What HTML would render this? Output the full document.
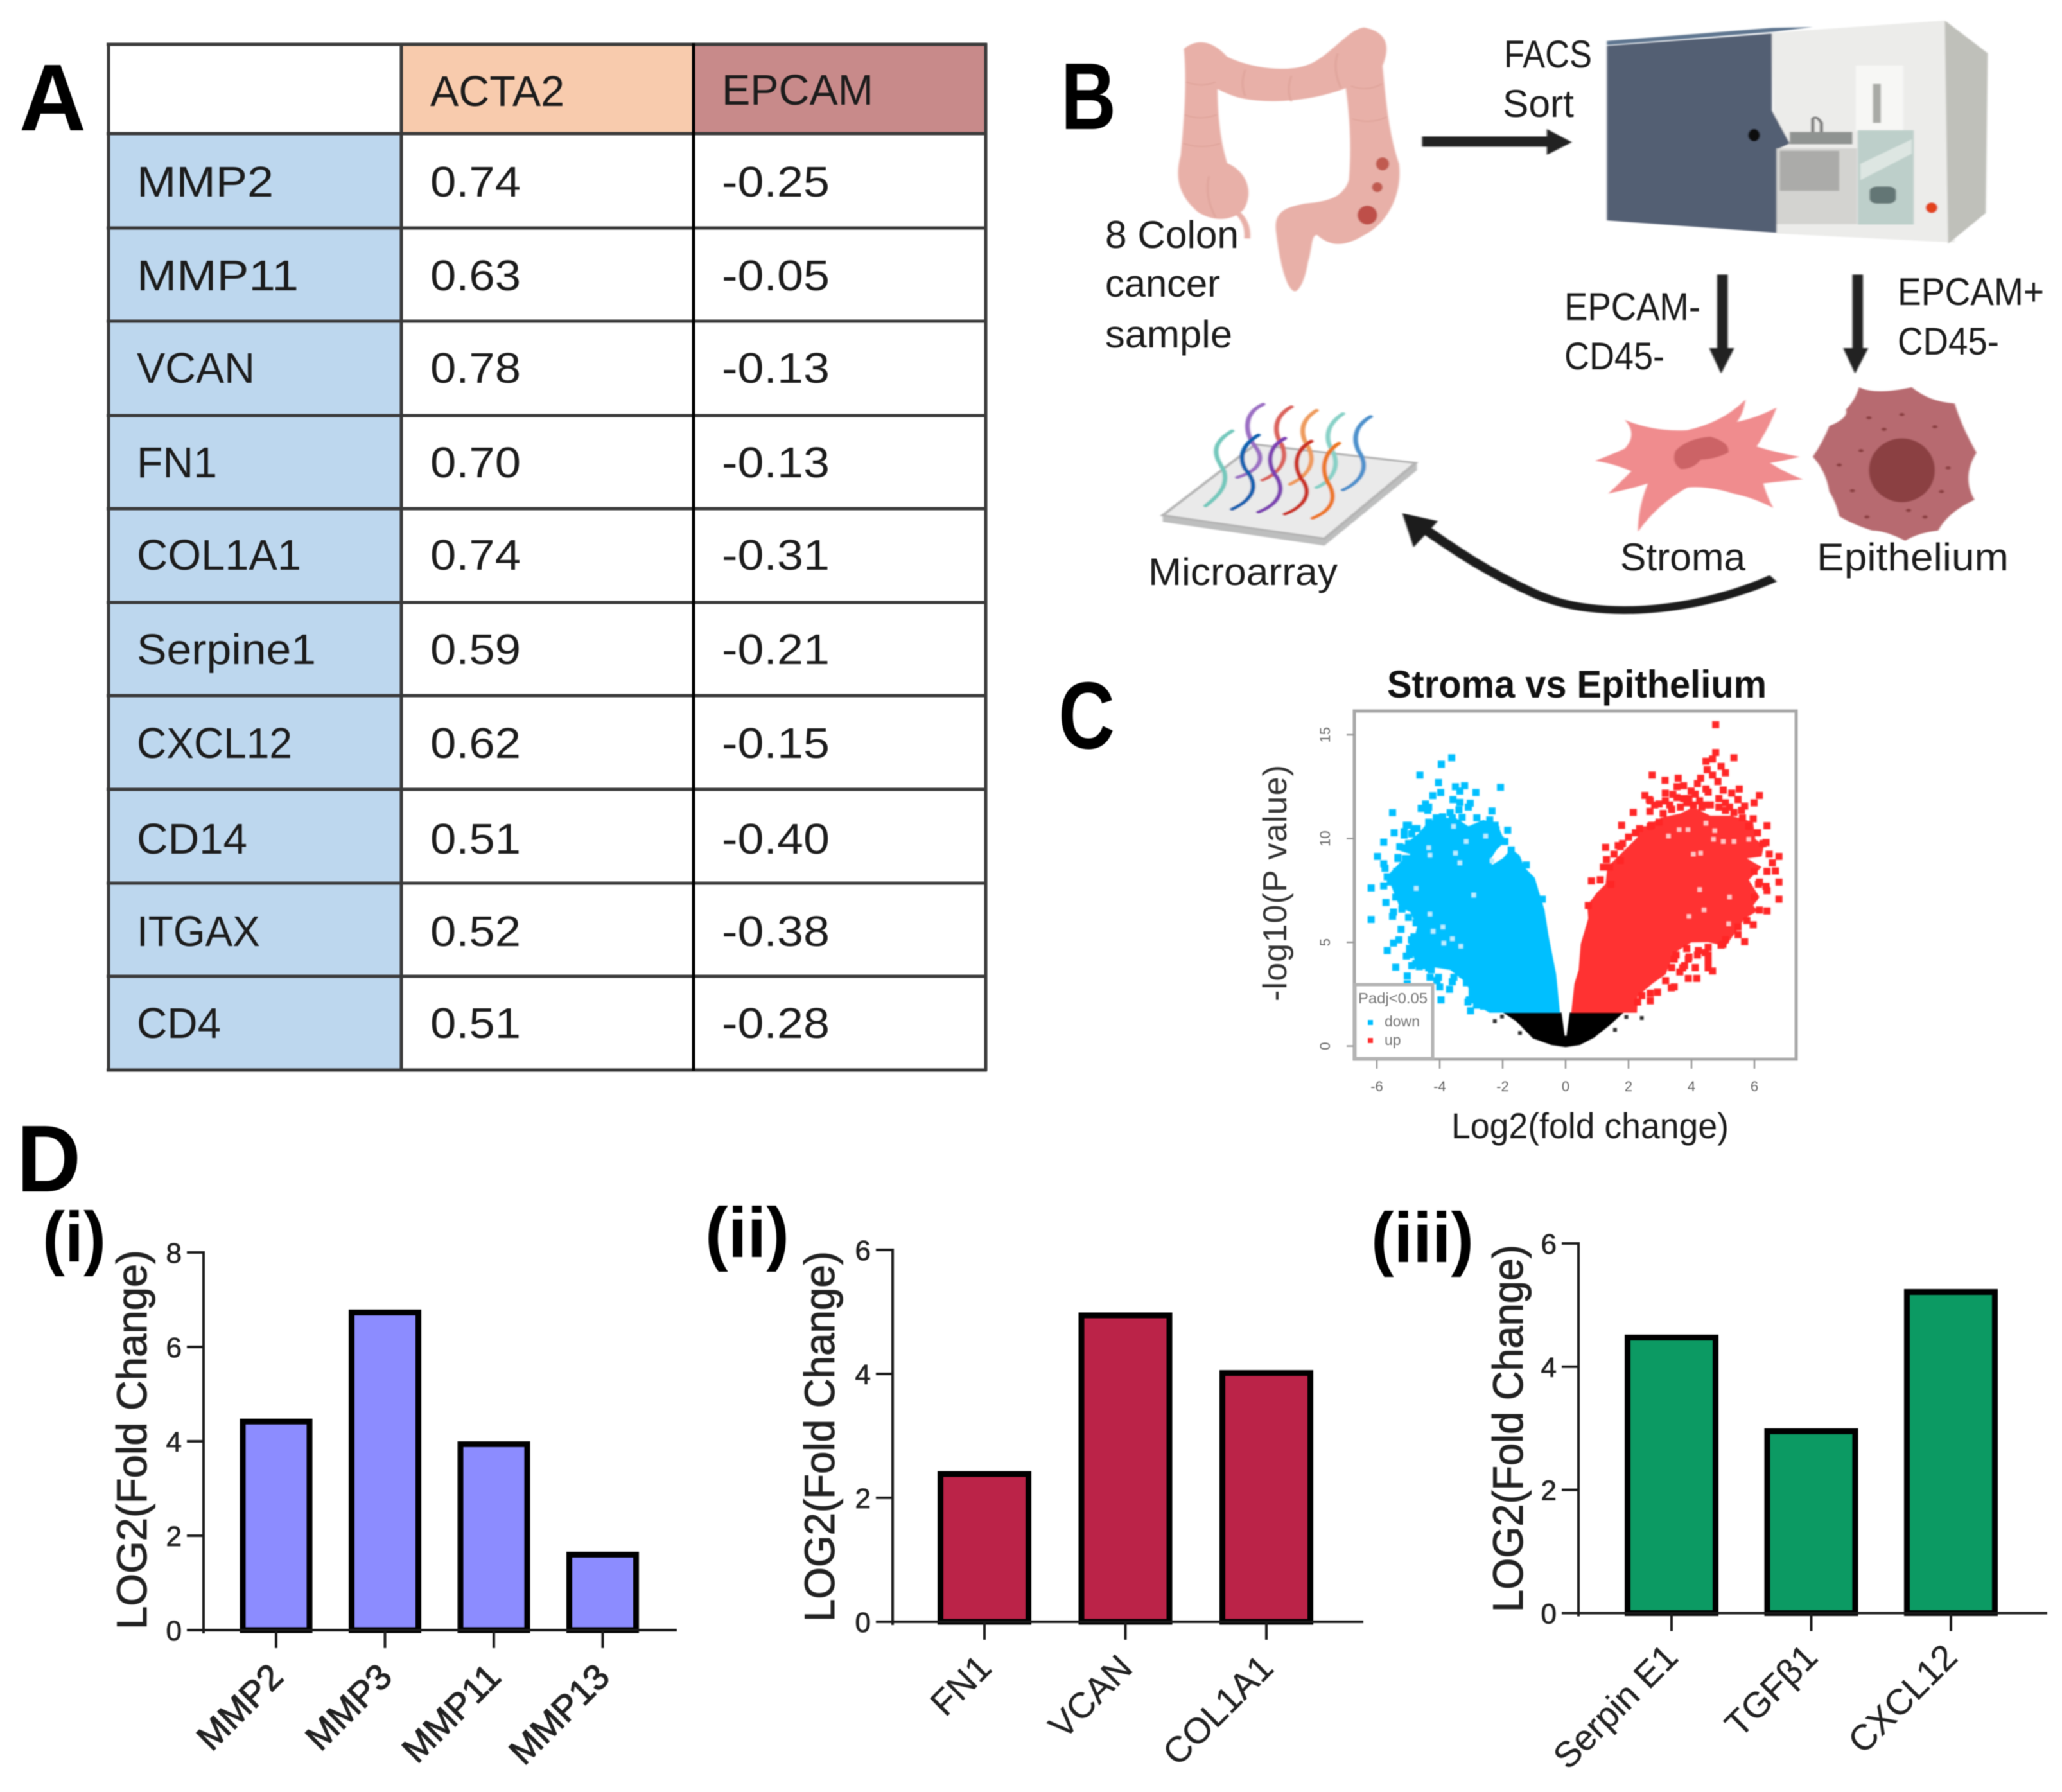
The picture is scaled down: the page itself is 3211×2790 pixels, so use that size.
<!DOCTYPE html>
<html lang="en">
<head>
<meta charset="utf-8">
<title>Stroma vs Epithelium composite figure</title>
<style>
html,body{margin:0;padding:0;background:#fff;}
svg{display:block;filter:blur(0.7px);}
text{font-family:"Liberation Sans",sans-serif;}
.cell{font-size:67px;fill:#1c1c1c;}
.lab{font-size:60px;fill:#1c1c1c;}
.panel{font-size:148px;font-weight:bold;fill:#000;}
.sub{font-size:110px;font-weight:bold;fill:#000;}
</style>
</head>
<body>
<svg id="fig" xmlns="http://www.w3.org/2000/svg" width="3211" height="2790" viewBox="0 0 3211 2790">
<defs>
<filter id="soft" x="-5%" y="-5%" width="110%" height="110%"><feGaussianBlur stdDeviation="1.3"/></filter>
<filter id="soft2" x="-5%" y="-5%" width="110%" height="110%"><feGaussianBlur stdDeviation="0.8"/></filter>
</defs>
<rect width="3211" height="2790" fill="#fff"/>

<!-- Panel letters -->
<text class="panel" x="30" y="203" textLength="104" lengthAdjust="spacingAndGlyphs">A</text>
<text class="panel" x="1652" y="201" textLength="86" lengthAdjust="spacingAndGlyphs">B</text>
<text class="panel" x="1648" y="1165" textLength="88" lengthAdjust="spacingAndGlyphs">C</text>
<text class="panel" x="26" y="1855" textLength="100" lengthAdjust="spacingAndGlyphs">D</text>
<text class="sub" x="66" y="1964" textLength="99" lengthAdjust="spacingAndGlyphs">(i)</text>
<text class="sub" x="1098" y="1957" textLength="131" lengthAdjust="spacingAndGlyphs">(ii)</text>
<text class="sub" x="2135" y="1965" textLength="160" lengthAdjust="spacingAndGlyphs">(iii)</text>

<!-- Panel A table -->
<g>
<rect x="168" y="69" width="457" height="138" fill="#fff"/>
<rect x="625" y="69" width="454" height="138" fill="#F8CBAD"/>
<rect x="1079" y="69" width="456" height="138" fill="#C88A8A"/>
<rect x="168" y="207" width="457" height="1458" fill="#BDD7EE"/>
<g stroke="#3a3a3a" stroke-width="5">
<line x1="166" x2="1537" y1="69" y2="69"/><line x1="166" x2="1537" y1="208" y2="208"/><line x1="166" x2="1537" y1="355" y2="355"/><line x1="166" x2="1537" y1="500" y2="500"/><line x1="166" x2="1537" y1="647" y2="647"/><line x1="166" x2="1537" y1="792" y2="792"/><line x1="166" x2="1537" y1="938" y2="938"/><line x1="166" x2="1537" y1="1083" y2="1083"/><line x1="166" x2="1537" y1="1229" y2="1229"/><line x1="166" x2="1537" y1="1375" y2="1375"/><line x1="166" x2="1537" y1="1520" y2="1520"/><line x1="166" x2="1537" y1="1666" y2="1666"/>
<line x1="169" x2="169" y1="67" y2="1667"/><line x1="625" x2="625" y1="67" y2="1667"/><line x1="1080" x2="1080" y1="67" y2="1667" stroke="#000"/><line x1="1535" x2="1535" y1="67" y2="1667"/>
</g>
<text class="cell" x="670" y="165" textLength="209" lengthAdjust="spacingAndGlyphs">ACTA2</text>
<text class="cell" x="1124" y="163" textLength="236" lengthAdjust="spacingAndGlyphs">EPCAM</text>
<g transform="translate(0,-2)">
<text class="cell" x="213" y="308" textLength="213" lengthAdjust="spacingAndGlyphs">MMP2</text>
<text class="cell" x="213" y="454" textLength="252" lengthAdjust="spacingAndGlyphs">MMP11</text>
<text class="cell" x="213" y="598" textLength="184" lengthAdjust="spacingAndGlyphs">VCAN</text>
<text class="cell" x="213" y="745" textLength="125" lengthAdjust="spacingAndGlyphs">FN1</text>
<text class="cell" x="213" y="889" textLength="256" lengthAdjust="spacingAndGlyphs">COL1A1</text>
<text class="cell" x="213" y="1036" textLength="279" lengthAdjust="spacingAndGlyphs">Serpine1</text>
<text class="cell" x="213" y="1182" textLength="242" lengthAdjust="spacingAndGlyphs">CXCL12</text>
<text class="cell" x="213" y="1331" textLength="172" lengthAdjust="spacingAndGlyphs">CD14</text>
<text class="cell" x="213" y="1475" textLength="192" lengthAdjust="spacingAndGlyphs">ITGAX</text>
<text class="cell" x="213" y="1618" textLength="131" lengthAdjust="spacingAndGlyphs">CD4</text>
</g>
<g transform="translate(0,-2)">
<text class="cell" x="670" y="308" textLength="141" lengthAdjust="spacingAndGlyphs">0.74</text>
<text class="cell" x="670" y="454" textLength="141" lengthAdjust="spacingAndGlyphs">0.63</text>
<text class="cell" x="670" y="598" textLength="141" lengthAdjust="spacingAndGlyphs">0.78</text>
<text class="cell" x="670" y="745" textLength="141" lengthAdjust="spacingAndGlyphs">0.70</text>
<text class="cell" x="670" y="889" textLength="141" lengthAdjust="spacingAndGlyphs">0.74</text>
<text class="cell" x="670" y="1036" textLength="141" lengthAdjust="spacingAndGlyphs">0.59</text>
<text class="cell" x="670" y="1182" textLength="141" lengthAdjust="spacingAndGlyphs">0.62</text>
<text class="cell" x="670" y="1331" textLength="141" lengthAdjust="spacingAndGlyphs">0.51</text>
<text class="cell" x="670" y="1475" textLength="141" lengthAdjust="spacingAndGlyphs">0.52</text>
<text class="cell" x="670" y="1618" textLength="141" lengthAdjust="spacingAndGlyphs">0.51</text>
</g>
<g transform="translate(0,-2)">
<text class="cell" x="1124" y="308" textLength="168" lengthAdjust="spacingAndGlyphs">-0.25</text>
<text class="cell" x="1124" y="454" textLength="168" lengthAdjust="spacingAndGlyphs">-0.05</text>
<text class="cell" x="1124" y="598" textLength="168" lengthAdjust="spacingAndGlyphs">-0.13</text>
<text class="cell" x="1124" y="745" textLength="168" lengthAdjust="spacingAndGlyphs">-0.13</text>
<text class="cell" x="1124" y="889" textLength="168" lengthAdjust="spacingAndGlyphs">-0.31</text>
<text class="cell" x="1124" y="1036" textLength="168" lengthAdjust="spacingAndGlyphs">-0.21</text>
<text class="cell" x="1124" y="1182" textLength="168" lengthAdjust="spacingAndGlyphs">-0.15</text>
<text class="cell" x="1124" y="1331" textLength="168" lengthAdjust="spacingAndGlyphs">-0.40</text>
<text class="cell" x="1124" y="1475" textLength="168" lengthAdjust="spacingAndGlyphs">-0.38</text>
<text class="cell" x="1124" y="1618" textLength="168" lengthAdjust="spacingAndGlyphs">-0.28</text>
</g>
</g>

<!-- Panel B illustrations (drawn in crop coordinates) -->
<g transform="translate(1600,0) scale(1.0277,0.6378)" filter="url(#soft)">
  <g>
    <path fill="#E8B0A8" stroke="#E8B0A8" stroke-width="6" stroke-linejoin="round" d="M240,120 C260,95 280,105 300,140 C330,165 400,190 440,150 C470,120 490,75 510,70 C540,80 548,110 535,160 C540,250 545,330 560,400 C565,470 545,540 510,570 C480,600 460,600 440,570 C425,570 430,600 422,640 C418,680 410,705 405,708 C395,700 385,640 380,570 C375,520 390,510 420,500 C450,495 480,490 490,440 C495,350 490,270 485,210 C440,240 370,255 320,235 C300,225 290,215 285,210 C285,290 290,350 300,400 C330,420 340,470 325,510 C310,535 285,540 260,515 C235,480 225,440 235,380 C240,300 245,200 240,120 Z"/>
    <g fill="none" stroke="#DCA096" stroke-width="3" opacity="0.7">
      <path d="M240,200 Q265,215 285,200"/><path d="M238,280 Q262,295 287,280"/><path d="M236,350 Q265,365 292,350"/>
      <path d="M330,170 Q322,205 330,235"/><path d="M400,185 Q392,220 400,248"/><path d="M470,130 Q462,170 475,215"/>
      <path d="M490,210 Q515,225 537,205"/><path d="M492,290 Q520,305 545,285"/><path d="M275,430 Q268,480 285,530"/>
    </g>
    <path d="M315,515 Q335,540 333,582" fill="none" stroke="#E8B0A8" stroke-width="9"/>
    <ellipse cx="538" cy="400" rx="10" ry="16" fill="#C05A50"/>
    <ellipse cx="530" cy="457" rx="8" ry="12" fill="#C05A50"/>
    <ellipse cx="515" cy="525" rx="15" ry="23" fill="#BE5048"/>
  </g>
  <g fill="#222">
    <rect x="598" y="333" width="195" height="25"/>
    <polygon points="787,315 825,347 787,378"/>
  </g>
  <g>
    <polygon points="1128,80 1390,50 1405,120 1405,592 1135,570" fill="#ECECEA"/>
    <polygon points="1390,50 1455,130 1452,520 1395,595" fill="#BFC0BA"/>
    <polygon points="878,110 1128,78 1190,66 1128,68 878,100" fill="#5F7690"/>
    <polygon points="878,112 1128,82 1128,270 1155,350 1135,365 1135,568 878,538" fill="#525E73"/>
    <rect x="1255" y="160" width="72" height="160" fill="#F7F7F5"/>
    <rect x="1135" y="362" width="122" height="185" fill="#D3D3D0"/>
    <rect x="1140" y="368" width="90" height="98" fill="#ABABA9"/>
    <rect x="1258" y="318" width="85" height="230" fill="#BDCFCA"/>
    <polygon points="1262,400 1340,340 1340,375 1262,440" fill="#DDE6E2"/>
    <rect x="1281" y="205" width="12" height="95" fill="#A9AAA6"/>
    <path d="M1190,325 V290 Q1195,280 1203,300 V325" fill="none" stroke="#777" stroke-width="5"/>
    <rect x="1155" y="322" width="95" height="30" fill="#8F9391"/>
    <rect x="1276" y="455" width="40" height="42" fill="#647675" rx="12"/>
    <ellipse cx="1101" cy="330" rx="9" ry="15" fill="#111"/>
    <ellipse cx="1370" cy="507" rx="9" ry="13" fill="#E2421C"/>
  </g>
  <g fill="#222">
    <rect x="1045" y="670" width="16" height="195"/>
    <polygon points="1033,850 1071,850 1051,912"/>
    <rect x="1250" y="670" width="16" height="195"/>
    <polygon points="1236,850 1274,850 1254,912"/>
  </g>
  <g>
    <path fill="#F08C8E" d="M905,1025 Q950,1055 1000,1050 Q1055,1030 1088,975 Q1085,1010 1075,1030 Q1105,1020 1135,995 Q1125,1040 1105,1090 Q1135,1105 1170,1115 Q1145,1125 1125,1130 Q1150,1155 1175,1170 Q1140,1175 1115,1180 Q1120,1210 1130,1240 Q1100,1215 1070,1205 Q1030,1185 1000,1190 Q955,1230 925,1298 Q925,1240 940,1180 Q910,1195 880,1205 Q900,1175 915,1150 Q885,1130 860,1125 Q885,1110 905,1095 Q925,1060 905,1025 Z"/>
    <path fill="#CC6466" d="M982,1100 Q1000,1070 1035,1066 Q1065,1080 1062,1105 Q1040,1122 1020,1122 Q1010,1145 990,1145 Q975,1130 982,1100 Z"/>
  </g>
  <g>
    <path fill="#B76A6F" d="M1260,945 Q1285,965 1340,945 Q1365,980 1405,985 Q1415,1040 1438,1105 Q1415,1165 1435,1220 Q1395,1250 1380,1295 Q1350,1300 1330,1320 Q1300,1295 1280,1295 Q1250,1280 1230,1260 Q1225,1225 1215,1200 Q1210,1150 1190,1115 Q1205,1080 1215,1040 Q1245,1020 1240,1000 Q1255,975 1260,945 Z"/>
    <ellipse cx="1325" cy="1148" rx="50" ry="78" fill="#8B3F43"/>
    <g fill="#8B3F43"><circle cx="1275" cy="1020" r="4"/><circle cx="1325" cy="1012" r="4"/><circle cx="1298" cy="1048" r="4"/><circle cx="1375" cy="1042" r="4"/><circle cx="1230" cy="1135" r="4"/><circle cx="1263" cy="1100" r="4"/><circle cx="1395" cy="1142" r="4"/><circle cx="1385" cy="1200" r="4"/><circle cx="1250" cy="1198" r="4"/><circle cx="1272" cy="1262" r="4"/><circle cx="1335" cy="1246" r="4"/><circle cx="1360" cy="1262" r="4"/></g>
  </g>
  <g>
    <polygon fill="#BDBEBE" points="205,1258 450,1315 590,1130 590,1148 450,1332 205,1274"/>
    <polygon fill="#EAEAEA" stroke="#B4B4B4" stroke-width="5" points="205,1258 345,1085 588,1130 450,1315"/>
    <g fill="none" stroke-width="7" stroke-linecap="round">
      <path stroke="#72C7BB" d="M310,1052 C270,1090 290,1125 298,1150 C305,1190 285,1215 270,1235"/>
      <path stroke="#9A6DC2" d="M357,987 C325,1010 330,1060 345,1090 C365,1130 340,1155 318,1165"/>
      <path stroke="#D9605A" d="M400,993 C370,1020 375,1060 385,1085 C398,1130 375,1160 356,1172"/>
      <path stroke="#EE9A5C" d="M438,1002 C410,1030 415,1065 425,1090 C440,1135 420,1165 398,1182"/>
      <path stroke="#86D0C6" d="M478,1010 C450,1040 452,1075 462,1100 C475,1140 460,1175 438,1190"/>
      <path stroke="#4C8FCB" d="M520,1017 C490,1045 495,1085 505,1110 C518,1150 500,1180 478,1196"/>
      <path stroke="#0D5FAE" d="M350,1062 C320,1090 320,1130 335,1155 C352,1195 335,1225 310,1243"/>
      <path stroke="#7A3CB0" d="M390,1070 C360,1095 365,1140 378,1165 C392,1205 375,1235 350,1250"/>
      <path stroke="#C92D24" d="M430,1077 C400,1105 405,1150 418,1175 C432,1210 415,1240 390,1255"/>
      <path stroke="#EC7622" d="M472,1082 C445,1110 445,1155 458,1185 C470,1225 455,1250 432,1265"/>
    </g>
  </g>
  <g>
    <path d="M1130,1412 C1020,1490 870,1520 770,1450 C700,1400 650,1345 605,1295" fill="none" stroke="#1e1e1e" stroke-width="19"/>
    <polygon fill="#1e1e1e" points="568,1253 622,1272 585,1336"/>
  </g>
</g>
<g>
<text class="lab" x="2342" y="105" textLength="137" lengthAdjust="spacingAndGlyphs">FACS</text>
<text class="lab" x="2340" y="182" textLength="111" lengthAdjust="spacingAndGlyphs">Sort</text>
<text class="lab" x="1721" y="386" textLength="208" lengthAdjust="spacingAndGlyphs">8 Colon</text>
<text class="lab" x="1721" y="462" textLength="179" lengthAdjust="spacingAndGlyphs">cancer</text>
<text class="lab" x="1721" y="541" textLength="198" lengthAdjust="spacingAndGlyphs">sample</text>
<text class="lab" x="2436" y="498" textLength="212" lengthAdjust="spacingAndGlyphs">EPCAM-</text>
<text class="lab" x="2436" y="575" textLength="156" lengthAdjust="spacingAndGlyphs">CD45-</text>
<text class="lab" x="2955" y="475" textLength="228" lengthAdjust="spacingAndGlyphs">EPCAM+</text>
<text class="lab" x="2955" y="552" textLength="158" lengthAdjust="spacingAndGlyphs">CD45-</text>
<text class="lab" x="2523" y="888" textLength="195" lengthAdjust="spacingAndGlyphs">Stroma</text>
<text class="lab" x="2829" y="888" textLength="299" lengthAdjust="spacingAndGlyphs">Epithelium</text>
<text class="lab" x="1788" y="911" textLength="295" lengthAdjust="spacingAndGlyphs">Microarray</text>
</g>

<!-- Panel C volcano -->
<text x="2160" y="1086" font-size="60" font-weight="bold" fill="#111" textLength="591" lengthAdjust="spacingAndGlyphs">Stroma vs Epithelium</text>
<g id="volcano"></g>
<text transform="translate(2003,1559) rotate(-90)" font-size="52" fill="#333" textLength="368" lengthAdjust="spacing">-log10(P value)</text>
<text x="2260" y="1772" font-size="56" fill="#1c1c1c" textLength="432" lengthAdjust="spacingAndGlyphs">Log2(fold change)</text>

<!-- Panel D bars -->
<g id="bars-i"></g>
<g id="bars-ii"></g>
<g id="bars-iii"></g>
</svg>

<script>
// ---- Bar chart data ----
const chartICategories = ['MMP2', 'MMP3', 'MMP11', 'MMP13'];
const chartIValues = [4.48, 6.79, 4.0, 1.66];
const chartITicks = [0, 2, 4, 6, 8];
const chartIICategories = ['FN1', 'VCAN', 'COL1A1'];
const chartIIValues = [2.43, 4.99, 4.06];
const chartIITicks = [0, 2, 4, 6];
const chartIIICategories = ['Serpin E1', 'TGF\u03B21', 'CXCL12'];
const chartIIIValues = [4.52, 3.0, 5.26];
const chartIIITicks = [0, 2, 4, 6];

// ---- Volcano data (log2 fold change, -log10 p) ----
const volcanoXTicks = [-6, -4, -2, 0, 2, 4, 6];
const volcanoYTicks = [0, 5, 10, 15];
const downRegion = [[-0.18,1.61],[-0.3,3.46],[-0.54,5.3],[-0.67,6.56],[-0.84,7.39],[-0.98,8.11],[-1.32,8.63],[-1.46,9.19],[-1.73,9.5],[-2.0,9.04],[-2.34,8.73],[-2.37,9.04],[-2.2,9.45],[-1.93,9.86],[-2.14,10.59],[-2.61,10.9],[-3.09,10.59],[-3.5,11.0],[-3.97,11.0],[-4.38,10.79],[-4.65,10.28],[-4.99,9.86],[-5.33,9.45],[-4.93,9.25],[-5.27,8.83],[-5.67,8.21],[-5.4,7.18],[-5.27,6.67],[-4.93,6.46],[-4.72,5.74],[-4.89,4.7],[-4.86,4.39],[-4.72,3.88],[-4.4,3.85],[-3.67,3.67],[-3.13,3.03],[-2.97,2.09],[-2.42,1.61]];
const upRegion = [[0.18,1.61],[0.28,3.0],[0.415,3.67],[0.48,4.91],[0.72,6.15],[0.69,6.77],[0.99,7.39],[1.27,7.8],[1.33,8.63],[1.88,9.45],[2.29,10.07],[2.35,10.59],[2.56,10.59],[3.03,11.0],[3.65,11.21],[4.06,11.52],[4.6,11.1],[5.28,11.1],[5.96,10.79],[6.03,9.97],[6.3,9.66],[6.23,9.14],[5.76,9.04],[6.23,8.63],[5.82,8.01],[6.16,7.18],[5.96,6.77],[6.1,6.51],[5.69,6.15],[5.42,5.53],[5.08,4.81],[4.53,5.01],[4.0,5.0],[3.45,4.49],[3.18,3.46],[2.75,3.0],[2.29,2.4],[2.27,1.61]];
const nsRegion = [[-2.0,1.62],[-1.57,1.19],[-1.04,0.37],[-0.45,0.05],[0,-0.05],[0.45,0.05],[0.9,0.4],[1.4,1.0],[1.85,1.62],[0.13,1.62],[0.03,0.5],[-0.03,0.5],[-0.13,1.62]];
const downSparseX = [-3.62,-3.95,-4.63,-4.04,-2.07,-3.5,-3.21,-3.36,-3.97,-2.85,-4.22,-3.58,-3.36,-3.03,-3.09,-3.39,-2.34,-5.5,-3.67,-4.45,-4.35,-4.59,-4.38,-3.29,-1.84,-5.45,-5.78,-5.98,-5.78,-5.74,-5.33,-6.18,-5.78,-5.71,-6.18,-5.5,-5.23,-5.3,-5.47,-5.67,-5.06,-5.4,-4.99,-4.72,-5.13,-1.25,-1.73,-0.74,-5.03,-5.03,-4.0,-3.69,-3.96,-4.31,-4.04,-3.6,-3.1,-2.74,-3.02,
-4.11,-4.35,-3.91,-3.6,-3.43,-2.82,-2.41,-2.24,-2.21,-3.02,-2.61,-5.06,-4.82,-5.13,-4.89,-5.27,-5.06,-4.99,-2.07,-1.93,-2.17,-5.33,-5.09,-5.67,-5.57,-5.37,-5.4,-5.16,-5.2,-5.47,-4.99,-4.75,-4.82,-4.86,-4.96,-4.58,-4.69,-4.89,-4.65,-4.35,
-4.9,-4.96,-4.76,-4.45,-4.27,-3.55,-3.28,-3.15,-2.83,-2.83,-3.06,-2.97,-2.83,-2.61,-4.09];
const downSparseY = [13.89,13.58,13.06,12.7,12.47,12.5,12.55,12.29,12.22,12.22,12.07,11.88,11.74,11.7,11.52,11.39,11.33,11.25,11.25,11.67,11.52,11.46,11.36,11.02,10.4,10.28,9.83,9.14,8.78,8.57,9.04,7.62,7.72,6.92,6.1,6.25,5.63,5.12,4.96,4.6,4.34,3.8,10.64,10.48,10.33,8.73,9.45,7.08,3.38,3.0,2.85,2.74,2.23,3.31,3.31,3.1,2.12,2.23,1.7,
11.0,10.79,11.05,11.0,10.69,11.0,10.9,10.64,10.43,10.43,10.69,10.64,10.48,10.17,10.23,9.61,9.56,9.76,9.92,9.86,10.07,9.09,9.04,8.16,7.9,8.42,7.18,6.72,6.6,6.46,6.2,5.94,5.27,5.0,4.7,4.7,4.24,3.88,3.83,3.77,
5.12,4.4,3.98,3.88,3.67,3.31,3.46,3.05,3.46,2.85,2.23,2.54,1.97,1.92,3.16];
const downGapX = [-4.31,-4.21,-3.6,-3.33,-3.87,-3.16,-3.56,-2.54,-4.35,-4.31,-4.75,-2.92,-3.36,-2.34,-3.5,-3.9];
const downGapY = [6.36,5.53,5.17,4.81,4.96,9.86,10.59,10.12,9.56,9.2,7.6,7.28,8.83,8.93,9.3,5.74];
const upSparseX = [4.77,4.77,5.35,4.46,4.67,4.94,5.08,4.5,4.67,4.84,2.75,3.16,3.58,4.29,4.19,3.54,3.75,5.52,4.46,6.16,2.52,3.17,3.41,3.99,4.53,5.01,5.28,2.66,2.97,3.31,3.92,4.26,4.46,4.87,5.08,5.48,5.99,5.69,5.59,2.15,2.68,1.78,6.4,2.73,2.0,1.27,1.74,1.3,0.82,6.47,6.78,6.57,6.4,6.67,6.78,6.13,6.4,6.78,6.4,5.96,5.69,5.48,4.94,4.53,4.53,4.19,3.85,3.51,3.78,4.67,4.44,4.17,3.9,3.63,3.45,2.92,2.69,2.42,5.0,
3.1,3.37,3.65,3.85,4.06,4.12,3.75,3.54,3.17,2.83,2.69,4.33,4.6,4.87,5.21,5.08,5.35,5.62,5.96,5.82,6.1,6.27,6.37,2.22,2.35,2.69,2.97,1.67,1.81,1.54,1.74,1.4,1.2,1.1,1.44,0.72,5.99,6.16,6.37,5.99,6.16,5.76,5.48,5.08,3.92,4.12,3.37,4.53,
3.45,3.9,4.22,4.53,3.72,4.53,3.18,3.36,2.29,2.69];
const upSparseY = [15.49,14.15,13.89,13.73,13.84,13.48,13.17,13.32,13.06,12.75,13.06,12.81,12.91,12.91,12.65,12.5,12.55,12.39,12.39,12.08,12.08,12.19,12.13,12.29,12.24,12.34,12.19,11.88,11.67,11.62,11.93,11.82,11.62,11.93,11.72,11.88,11.72,11.57,11.36,11.26,11.31,10.64,10.62,10.64,10.07,9.58,9.61,8.99,7.96,9.25,9.14,8.83,8.42,8.44,7.9,7.8,7.49,7.08,6.51,5.84,5.03,5.37,4.86,4.76,4.09,4.39,4.7,4.39,3.88,3.62,4.5,3.26,3.26,3.57,2.85,2.59,2.18,2.43,4.9,
11.21,11.41,11.52,11.72,11.62,12.14,11.93,11.98,11.82,11.62,11.83,11.52,11.62,11.52,11.52,11.36,11.26,11.0,10.95,10.59,10.28,9.76,9.81,10.28,10.48,10.59,10.79,9.66,9.76,9.25,8.94,8.63,8.63,8.01,7.8,6.77,8.42,7.9,7.7,7.18,6.56,6.05,5.74,5.12,4.29,3.78,3.78,4.39,
4.19,4.19,4.6,4.1,3.77,3.77,3.15,2.8,2.12,2.54];
const upGapX = [3.92,4.26,4.4,4.29,4.06,5.35,5.82,4.7,3.61,3.89,3.27,4.46,5.21,5.18,4.74,5.01];
const upGapY = [6.25,7.54,6.56,9.3,9.25,9.86,9.97,9.97,10.43,10.43,10.12,10.74,7.18,5.89,10.38,9.86];
const nsSparseX = [-2.02,-2.25,-1.45,2.42,1.93,1.57];
const nsSparseY = [1.42,1.2,0.63,1.35,1.4,0.78];

const NS = 'http://www.w3.org/2000/svg';
function make(tag, attrs, parent) {
  const e = document.createElementNS(NS, tag);
  for (const k in attrs) e.setAttribute(k, attrs[k]);
  parent.appendChild(e);
  return e;
}
function slug(s) { return String(s).toLowerCase().replace(/[^a-z0-9]+/g, '-'); }

function drawBars(id, cats, vals, ticks, g) {
  const root = document.getElementById(id);
  const yScale = v => g.y0 + (g.yTop - g.y0) * v / ticks[ticks.length - 1];
  const xScale = i => g.x0 + i * g.step;

  cats.forEach((c, i) => {
    const top = yScale(vals[i]);
    const bar = make('rect', {x: xScale(i) - g.barW / 2 + 4.5, y: top + 4.5, width: g.barW - 9, height: g.y0 - top - 4.5, fill: g.fill, stroke: '#000', 'stroke-width': 9}, root);
    
    
  });

  const yAxis = make('line', {x1: g.axisX, x2: g.axisX, y1: g.yTop - 2, y2: g.y0 + 5, stroke: '#1a1a1a', 'stroke-width': 4}, root);
  
  
  const xAxis = make('line', {x1: g.axisX - 26, x2: g.xEnd, y1: g.y0, y2: g.y0, stroke: '#1a1a1a', 'stroke-width': 4}, root);
  
  

  ticks.forEach(t => {
    const ty = yScale(t);
    const tick = make('line', {x1: g.axisX - 26, x2: g.axisX, y1: ty, y2: ty, stroke: '#1a1a1a', 'stroke-width': 4}, root);
    
    
    const lab = make('text', {x: g.axisX - 34, y: ty + 16, 'text-anchor': 'end', 'font-size': 44, fill: '#222', stroke: '#222', 'stroke-width': 0.8}, root);
    lab.textContent = t;
    
    
  });

  cats.forEach((c, i) => {
    const tx = xScale(i);
    const tick = make('line', {x1: tx, x2: tx, y1: g.y0, y2: g.y0 + 28, stroke: '#1a1a1a', 'stroke-width': 4}, root);
    
    
    const ax = tx + g.labelDx;
    const ay = g.y0 + g.labelDy;
    const lab = make('text', {transform: 'translate(' + ax + ',' + ay + ') rotate(-45)', 'text-anchor': 'end', 'font-size': 56, fill: '#222', stroke: '#222', 'stroke-width': g.labelStroke}, root);
    lab.textContent = c;
    
    
  });

  const title = make('text', {transform: 'translate(' + g.titleX + ',' + g.titleBottom + ') rotate(-90)', 'font-size': 66, fill: '#222', stroke: '#222', 'stroke-width': 1, textLength: g.titleLen, lengthAdjust: 'spacingAndGlyphs'}, root);
  title.textContent = 'LOG2(Fold Change)';
  
  
}

drawBars('bars-i', chartICategories, chartIValues, chartITicks, {x0: 430, step: 169.5, barW: 113, axisX: 317, y0: 2538, yTop: 1950, xEnd: 1054, fill: '#8C8CFF', labelDx: 14, labelDy: 76, labelStroke: 1.2, titleX: 228, titleBottom: 2537, titleLen: 591});
drawBars('bars-ii', chartIICategories, chartIIValues, chartIITicks, {x0: 1533, step: 219.5, barW: 146, axisX: 1390, y0: 2525, yTop: 1946, xEnd: 2123, fill: '#BB2348', labelDx: 14, labelDy: 75, labelStroke: 0.3, titleX: 1299, titleBottom: 2525, titleLen: 577});
drawBars('bars-iii', chartIIICategories, chartIIIValues, chartIIITicks, {x0: 2603, step: 217.5, barW: 146, axisX: 2458, y0: 2511.5, yTop: 1936, xEnd: 3188, fill: '#0C9A63', labelDx: 13, labelDy: 72, labelStroke: 0.3, titleX: 2371, titleBottom: 2510, titleLen: 572});

// ---- Volcano ----
(function () {
  const root = document.getElementById('volcano');
  const vx = v => 2438 + v * 49;
  const vy = v => 1628.6 - v * 32.3;
  const toPts = arr => arr.map(p => vx(p[0]) + ',' + vy(p[1])).join(' ');

  const frameBg = make('rect', {x: 2109, y: 1107, width: 688, height: 542, fill: '#fff'}, root);
  
  

  const marks = make('g', {filter: 'url(#soft2)'}, root);
  
  

  const nsPoly = make('polygon', {points: toPts(nsRegion), fill: '#000'}, marks);
  
  
  const downPoly = make('polygon', {points: toPts(downRegion), fill: '#00BFFF'}, marks);
  
  
  const upPoly = make('polygon', {points: toPts(upRegion), fill: '#FF3030'}, marks);
  
  

  function scatter(xs, ys, fill, size, name) {
    xs.forEach((x, i) => {
      const r = make('rect', {x: vx(x) - size / 2, y: vy(ys[i]) - size / 2, width: size, height: size, fill: fill}, marks);
      
      
    });
  }
  scatter(downSparseX, downSparseY, '#00BFFF', 11, 'down-point');
  scatter(upSparseX, upSparseY, '#FF2828', 11, 'up-point');
  scatter(downGapX, downGapY, '#BDEEFF', 7, 'down-cloud-gap');
  scatter(upGapX, upGapY, '#FFC4C4', 7, 'up-cloud-gap');
  scatter(nsSparseX, nsSparseY, '#333', 6, 'not-significant-point');

  const frame = make('rect', {x: 2109, y: 1107, width: 688, height: 542, fill: 'none', stroke: '#A8A8A8', 'stroke-width': 5}, root);
  
  

  volcanoXTicks.forEach(t => {
    const tick = make('line', {x1: vx(t), x2: vx(t), y1: 1649, y2: 1664, stroke: '#999', 'stroke-width': 2.5}, root);
    
    
    const lab = make('text', {x: vx(t), y: 1699, 'text-anchor': 'middle', 'font-size': 22, fill: '#666'}, root);
    lab.textContent = t;
    
    
  });
  volcanoYTicks.forEach(t => {
    const tick = make('line', {x1: 2097, x2: 2109, y1: vy(t), y2: vy(t), stroke: '#999', 'stroke-width': 2.5}, root);
    
    
    const lab = make('text', {transform: 'translate(2071,' + vy(t) + ') rotate(-90)', 'text-anchor': 'middle', 'font-size': 22, fill: '#666'}, root);
    lab.textContent = t;
    
    
  });

  const legend = make('rect', {x: 2110, y: 1533, width: 121, height: 115, fill: '#fff', stroke: '#B4B4B4', 'stroke-width': 5}, root);
  
  
  const legT = make('text', {x: 2115, y: 1562, 'font-size': 23, fill: '#777', textLength: 108, lengthAdjust: 'spacingAndGlyphs'}, root);
  legT.textContent = 'Padj<0.05';
  
  
  const legDownDot = make('rect', {x: 2130, y: 1588, width: 8, height: 8, fill: '#00BFFF'}, root);
  
  
  const legDown = make('text', {x: 2156, y: 1598, 'font-size': 23, fill: '#777'}, root);
  legDown.textContent = 'down';
  
  
  const legUpDot = make('rect', {x: 2130, y: 1616, width: 8, height: 8, fill: '#FF3030'}, root);
  
  
  const legUp = make('text', {x: 2156, y: 1627, 'font-size': 23, fill: '#777'}, root);
  legUp.textContent = 'up';
  
  
})();
</script>
</body>
</html>
